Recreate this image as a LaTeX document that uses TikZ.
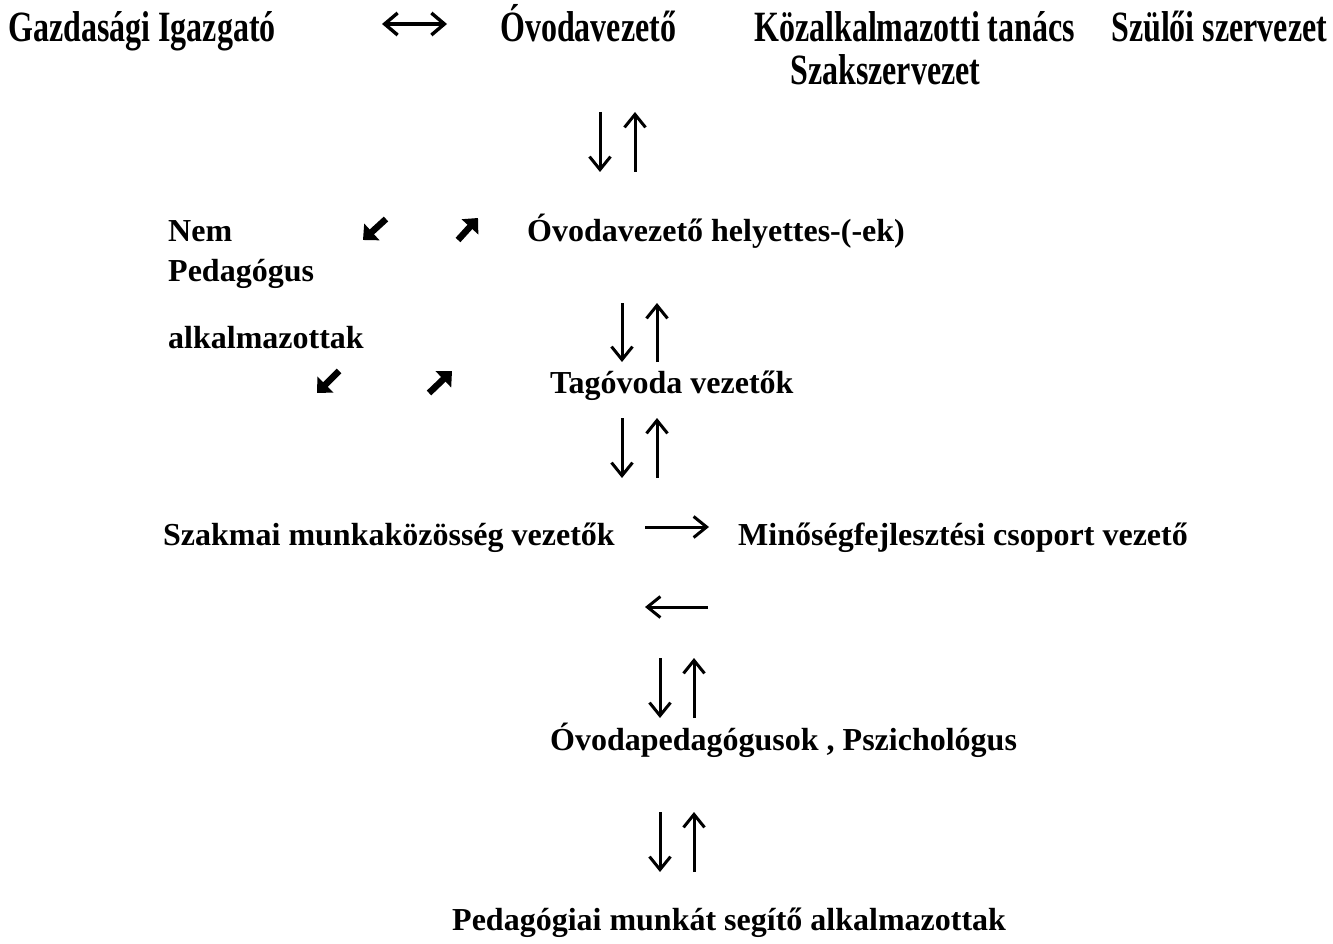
\documentclass[tikz,border=0pt]{standalone}
\usepackage{fontspec}
\usepackage{graphicx}
\setmainfont{Liberation Serif}
\usetikzlibrary{arrows.meta}
\newcommand\talltext[1]{\scalebox{1}[1.35]{#1}}
\begin{document}
\begin{tikzpicture}[x=1pt,y=-1pt,
  lbl/.style={anchor=base west, inner sep=0pt, font=\fontsize{32}{36}\selectfont\bfseries},
  thinarr/.style={line width=3pt, -{Straight Barb[length=13pt,width=21pt,line width=3pt]}},
  twoarr/.style={line width=3.2pt, {Straight Barb[length=13pt,width=22pt,line width=3.4pt]}-{Straight Barb[length=13pt,width=22pt,line width=3.4pt]}},
  boldarr/.style={line width=6.5pt, -{Triangle[length=12pt,width=22pt]}}]
\useasboundingbox[fill=white] (0,0) rectangle (1333,944);
% labels
\node[lbl] (gi)  at (8,42)    {\talltext{Gazdasági Igazgató}};
\node[lbl] (ov)  at (500,42)  {\talltext{Óvodavezető}};
\node[lbl] (kt)  at (754,42)  {\talltext{Közalkalmazotti tanács}};
\node[lbl] (ssz) at (1111,42) {\talltext{Szülői szervezet}};
\node[lbl] (szak) at (790,85) {\talltext{Szakszervezet}};
\node[lbl] (nem) at (168,241) {Nem};
\node[lbl] (ovh) at (527,241) {Óvodavezető helyettes-(-ek)};
\node[lbl] (ped) at (168,281) {Pedagógus};
\node[lbl] (alk) at (168,348) {alkalmazottak};
\node[lbl] (tag) at (550,393) {Tagóvoda vezetők};
\node[lbl] (szm) at (163,545) {Szakmai munkaközösség vezetők};
\node[lbl] (min) at (738,545) {Minőségfejlesztési csoport vezető};
\node[lbl] (ovp) at (550,750) {Óvodapedagógusok , Pszichológus};
\node[lbl] (pma) at (452,930) {Pedagógiai munkát segítő alkalmazottak};
% arrow end points
\coordinate (h1a) at (382,24); \coordinate (h1b) at (447,24);
\coordinate (d1a) at (600,112); \coordinate (d1b) at (600,172);
\coordinate (u1a) at (635,172); \coordinate (u1b) at (635,112);
\coordinate (d2a) at (622,303); \coordinate (d2b) at (622,362);
\coordinate (u2a) at (657,362); \coordinate (u2b) at (657,303);
\coordinate (d3a) at (622,418); \coordinate (d3b) at (622,478);
\coordinate (u3a) at (657,478); \coordinate (u3b) at (657,418);
\coordinate (r1a) at (645,527); \coordinate (r1b) at (709,527);
\coordinate (l1a) at (708,607); \coordinate (l1b) at (645,607);
\coordinate (d4a) at (660,658); \coordinate (d4b) at (660,718);
\coordinate (u4a) at (694,718); \coordinate (u4b) at (694,658);
\coordinate (d5a) at (660,812); \coordinate (d5b) at (660,872);
\coordinate (u5a) at (694,872); \coordinate (u5b) at (694,812);
\coordinate (s1a) at (386,219); \coordinate (s1b) at (363,240);
\coordinate (n1a) at (458,240); \coordinate (n1b) at (478,218);
\coordinate (s2a) at (339,371); \coordinate (s2b) at (317,393);
\coordinate (n2a) at (429,393); \coordinate (n2b) at (452,371);
% arrows
\draw[twoarr] (h1a) -- (h1b);
\draw[thinarr] (d1a) -- (d1b);
\draw[thinarr] (u1a) -- (u1b);
\draw[thinarr] (d2a) -- (d2b);
\draw[thinarr] (u2a) -- (u2b);
\draw[thinarr] (d3a) -- (d3b);
\draw[thinarr] (u3a) -- (u3b);
\draw[thinarr] (r1a) -- (r1b);
\draw[thinarr] (l1a) -- (l1b);
\draw[thinarr] (d4a) -- (d4b);
\draw[thinarr] (u4a) -- (u4b);
\draw[thinarr] (d5a) -- (d5b);
\draw[thinarr] (u5a) -- (u5b);
\draw[boldarr] (s1a) -- (s1b);
\draw[boldarr] (n1a) -- (n1b);
\draw[boldarr] (s2a) -- (s2b);
\draw[boldarr] (n2a) -- (n2b);
\end{tikzpicture}
\end{document}
